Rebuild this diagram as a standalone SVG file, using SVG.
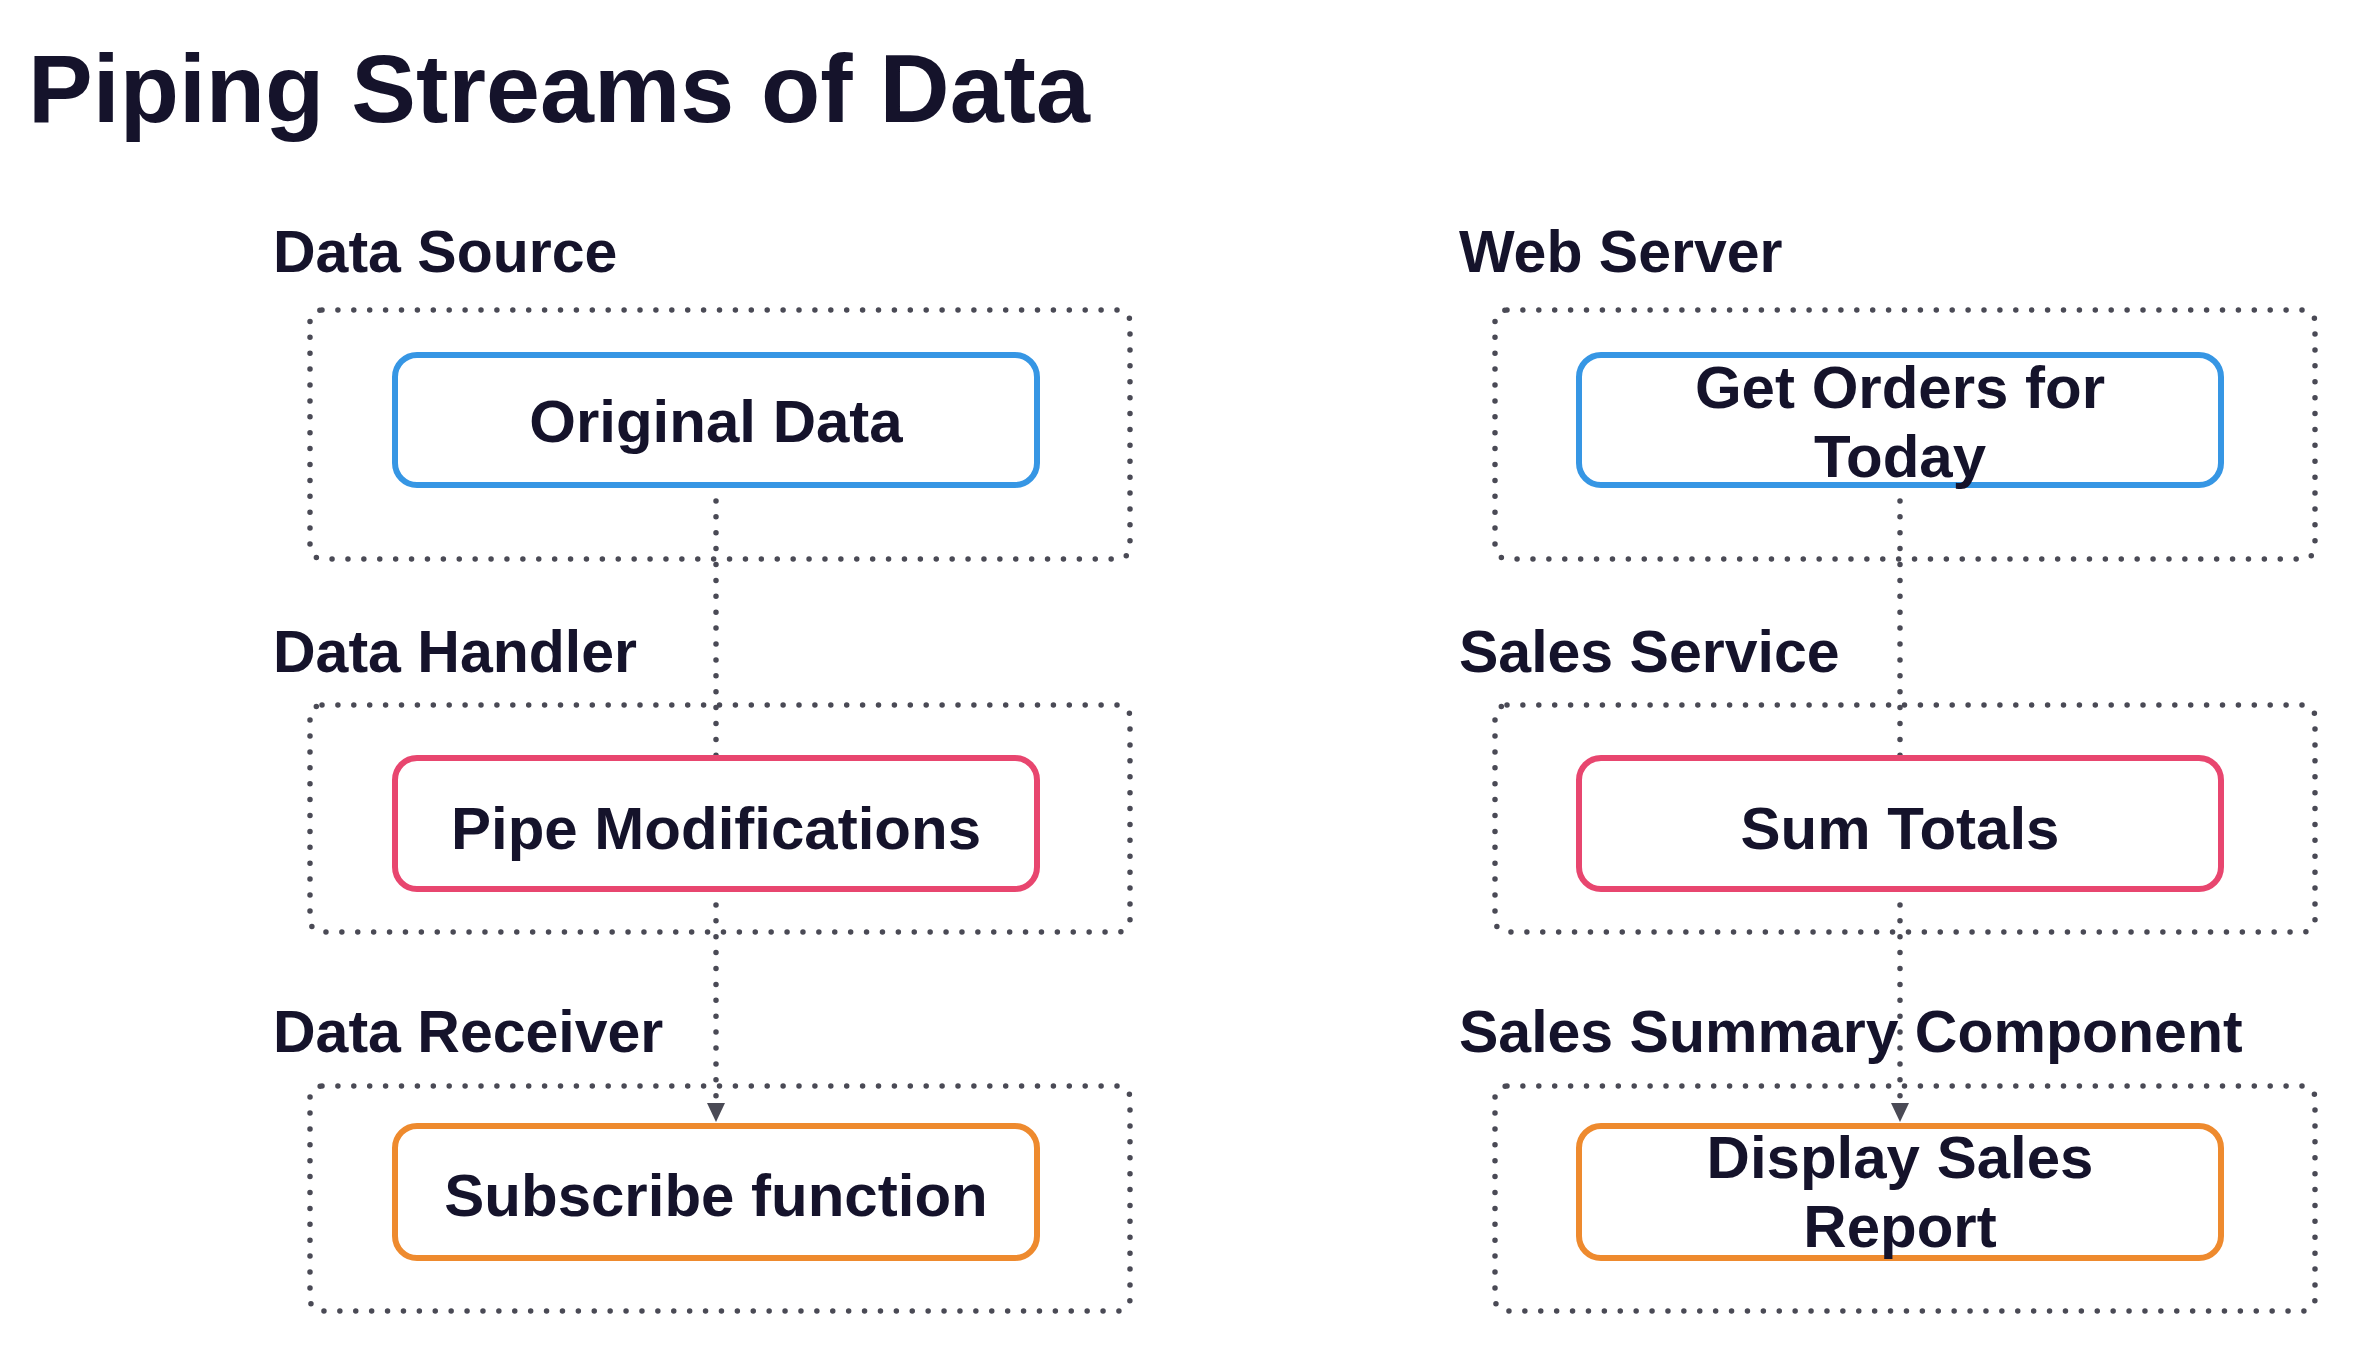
<svg xmlns="http://www.w3.org/2000/svg" width="2366" height="1358" viewBox="0 0 2366 1358">
<style>
text{font-family:"Liberation Sans",Arial,sans-serif;font-weight:700;fill:#15132b}
.title{font-size:97px}
.lbl{font-size:59px}
.nt{font-size:60px;text-anchor:middle}
.grp{fill:none;stroke:#4a4a55;stroke-width:5.5;stroke-dasharray:0 15.9;stroke-linecap:round}
.node{fill:#fff;stroke-width:6}
.blue{stroke:#3696e4}
.pink{stroke:#e8466f}
.orange{stroke:#ee8a2e}
.conn{fill:none;stroke:#4a4a55;stroke-width:5.5;stroke-dasharray:0 15.9;stroke-linecap:round}
</style>
<defs>
<marker id="arr" viewBox="0 0 19 18" refX="19" refY="9" markerWidth="19" markerHeight="18" orient="auto" markerUnits="userSpaceOnUse">
<path d="M0,0 L19,9 L0,18 Z" fill="#4a4a55"/>
</marker>
</defs>
<rect width="2366" height="1358" fill="#fff"/>
<text class="title" x="28" y="122">Piping Streams of Data</text>

<g id="groups">
<g id="data-source">
<text class="lbl" x="273" y="272">Data Source</text>
<rect class="grp" x="310" y="310" width="820" height="249" rx="12"/>
</g>
<g id="data-handler">
<text class="lbl" x="273" y="672">Data Handler</text>
<rect class="grp" x="310" y="705" width="820" height="227" rx="12"/>
</g>
<g id="data-receiver">
<text class="lbl" x="273" y="1052">Data Receiver</text>
<rect class="grp" x="310" y="1086" width="820" height="225" rx="12"/>
</g>
<g id="web-server">
<text class="lbl" x="1459" y="272">Web Server</text>
<rect class="grp" x="1495" y="310" width="820" height="249" rx="12"/>
</g>
<g id="sales-service">
<text class="lbl" x="1459" y="672">Sales Service</text>
<rect class="grp" x="1495" y="705" width="820" height="227" rx="12"/>
</g>
<g id="sales-summary">
<text class="lbl" x="1459" y="1052">Sales Summary Component</text>
<rect class="grp" x="1495" y="1086" width="820" height="225" rx="12"/>
</g>
</g>

<g id="connectors">
<path class="conn" d="M716,485 V758"/>
<path class="conn" d="M716,889 V1122" marker-end="url(#arr)"/>
<path class="conn" d="M1900,485 V758"/>
<path class="conn" d="M1900,889 V1122" marker-end="url(#arr)"/>
</g>

<g id="original-data">
<rect class="node blue" x="395" y="355" width="642" height="130" rx="22"/>
<text class="nt" x="716" y="442">Original Data</text>
</g>
<g id="pipe-modifications">
<rect class="node pink" x="395" y="758" width="642" height="131" rx="22"/>
<text class="nt" x="716" y="849">Pipe Modifications</text>
</g>
<g id="subscribe-function">
<rect class="node orange" x="395" y="1126" width="642" height="132" rx="22"/>
<text class="nt" x="716" y="1216">Subscribe function</text>
</g>
<g id="get-orders">
<rect class="node blue" x="1579" y="355" width="642" height="130" rx="22"/>
<text class="nt" x="1900" y="408">Get Orders for</text>
<text class="nt" x="1900" y="477">Today</text>
</g>
<g id="sum-totals">
<rect class="node pink" x="1579" y="758" width="642" height="131" rx="22"/>
<text class="nt" x="1900" y="849">Sum Totals</text>
</g>
<g id="display-sales">
<rect class="node orange" x="1579" y="1126" width="642" height="132" rx="22"/>
<text class="nt" x="1900" y="1178">Display Sales</text>
<text class="nt" x="1900" y="1247">Report</text>
</g>
</svg>
